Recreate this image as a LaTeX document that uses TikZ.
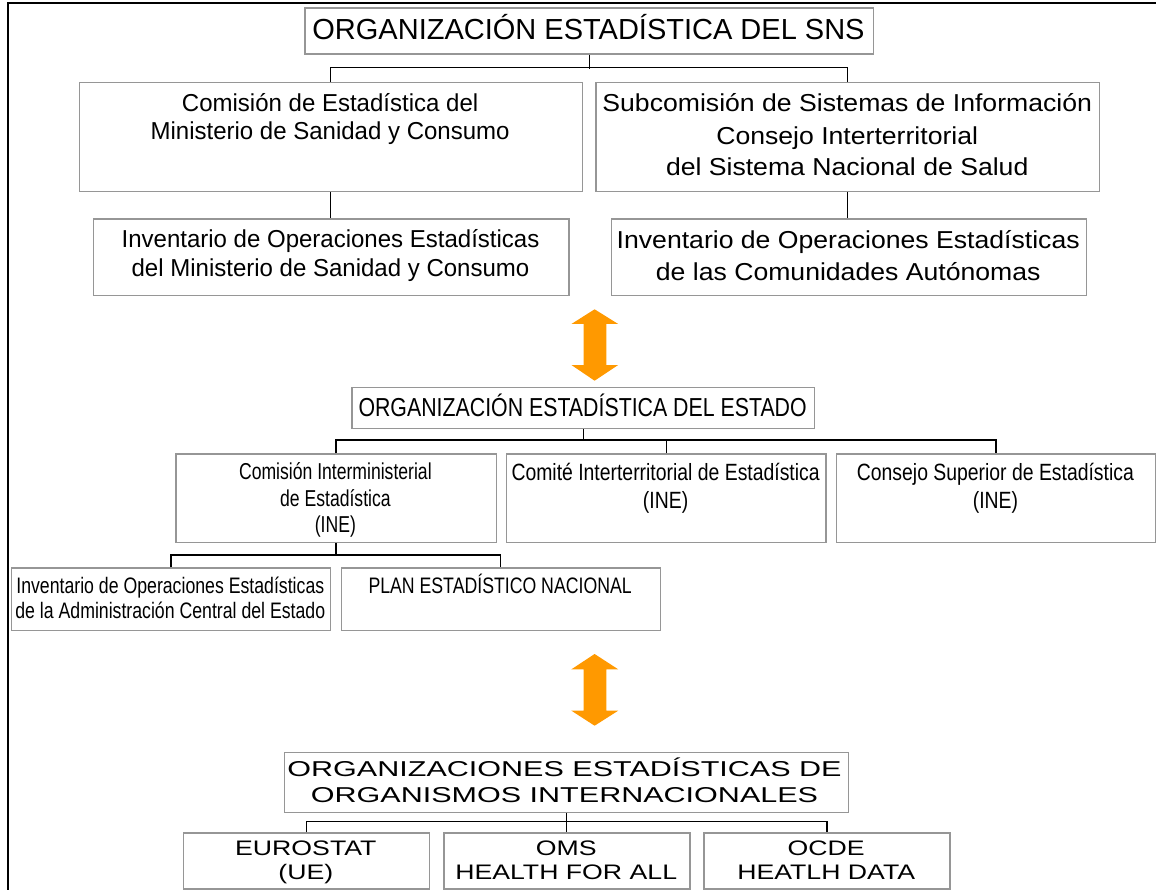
\documentclass[tikz,border=0pt]{standalone}
\usepackage{fontspec}
\setmainfont{Liberation Sans}
\newfontfamily\fntTitle[FakeStretch=1.0]{Liberation Sans}
\newfontfamily\fntLeft[FakeStretch=0.98]{Liberation Sans}
\newfontfamily\fntRight[FakeStretch=1.086]{Liberation Sans}
\newfontfamily\fntMid[FakeStretch=0.82]{Liberation Sans}
\newfontfamily\fntCie[FakeStretch=0.765]{Liberation Sans}
\newfontfamily\fntCom[FakeStretch=0.825]{Liberation Sans}
\newfontfamily\fntInv[FakeStretch=0.79]{Liberation Sans}
\newfontfamily\fntIntl[FakeStretch=1.42]{Liberation Sans}
\newfontfamily\fntOrg[FakeStretch=1.27]{Liberation Sans}
\definecolor{boxgray}{RGB}{150,150,150}
\definecolor{arroworange}{RGB}{255,153,0}
\begin{document}
\begin{tikzpicture}[x=1pt,y=-1pt,
  box/.style={draw=boxgray, line width=1.3pt, rectangle, inner sep=0pt, anchor=north west},
  conn/.style={draw=black, line width=1.3pt},
  txt/.style={anchor=base, inner sep=0pt, outer sep=0pt},
  gT/.style={font=\fntTitle\fontsize{29}{29}\selectfont},
  gL/.style={font=\fntLeft\fontsize{24.5}{24.5}\selectfont},
  gR/.style={font=\fntRight\fontsize{24.5}{24.5}\selectfont},
  gM/.style={font=\fntMid\fontsize{26}{26}\selectfont},
  gC/.style={font=\fntCie\fontsize{23}{23}\selectfont},
  gD/.style={font=\fntCom\fontsize{23.5}{23.5}\selectfont},
  gE/.style={font=\fntInv\fontsize{22.4}{22.4}\selectfont},
  gF/.style={font=\fntIntl\fontsize{21.5}{21.5}\selectfont},
  gG/.style={font=\fntOrg\fontsize{21}{21}\selectfont},
  frame/.style={draw=black, line width=2pt},
  bigarrow/.style={fill=arroworange}
]
\useasboundingbox (0,0) rectangle (1156,890);
\fill[white] (0,0) rectangle (1156,890);
% frame
\draw[frame] (7.5,891) -- (7.5,3.5) -- (1157,3.5);

% ---------- boxes ----------
\node[box, minimum width=568.6pt, minimum height=46pt] (title) at (304.2,7.3) {};
\node[box, minimum width=503.2pt, minimum height=109pt] (com) at (78.5,81.7) {};
\node[box, minimum width=503.7pt, minimum height=109pt] (sub) at (595.3,81.7) {};
\node[box, minimum width=475.7pt, minimum height=76.7pt] (invm) at (92.6,218.3) {};
\node[box, minimum width=475.1pt, minimum height=76.7pt] (invc) at (610.6,218.3) {};
\node[box, minimum width=462.6pt, minimum height=41pt] (mid) at (351.3,386.7) {};
\node[box, minimum width=320.3pt, minimum height=88.4pt] (cie) at (175.3,453.3) {};
\node[box, minimum width=319.4pt, minimum height=88.4pt] (cit) at (505.9,453.3) {};
\node[box, minimum width=318.9pt, minimum height=88.4pt] (csup) at (835.9,453.3) {};
\node[box, minimum width=319.2pt, minimum height=62.7pt] (inva) at (10.7,567.3) {};
\node[box, minimum width=319pt, minimum height=62.7pt] (plan) at (340.6,567.3) {};
\node[box, minimum width=563.7pt, minimum height=60pt] (intl) at (284,751.7) {};
\node[box, minimum width=245.7pt, minimum height=56pt] (euro) at (182.9,832.3) {};
\node[box, minimum width=246pt, minimum height=56pt] (oms) at (443.2,832.3) {};
\node[box, minimum width=245.9pt, minimum height=56pt] (ocde) at (703.3,832.3) {};

% ---------- texts ----------
\node[txt,gT] (titleA) at (588.5,39.8) {ORGANIZACIÓN ESTADÍSTICA DEL SNS};

\node[txt,gL] (comA) at (330.1,111.7) {Comisión de Estadística del};
\node[txt,gL] (comB) at (330.1,140) {Ministerio de Sanidad y Consumo};

\node[txt,gR] (subA) at (847.2,111.7) {Subcomisión de Sistemas de Información};
\node[txt,gR] (subB) at (847.2,144.5) {Consejo Interterritorial};
\node[txt,gR] (subC) at (847.2,176) {del Sistema Nacional de Salud};

\node[txt,gL] (invmA) at (330.5,248) {Inventario de Operaciones Estadísticas};
\node[txt,gL] (invmB) at (330.5,276.5) {del Ministerio de Sanidad y Consumo};

\node[txt,gR] (invcA) at (848.2,249) {Inventario de Operaciones Estadísticas};
\node[txt,gR] (invcB) at (848.2,281) {de las Comunidades Autónomas};

\node[txt,gM] (midA) at (582.6,416) {ORGANIZACIÓN ESTADÍSTICA DEL ESTADO};

\node[txt,gC] (cieA) at (335.4,479.3) {Comisión Interministerial};
\node[txt,gC] (cieB) at (335.4,506) {de Estadística};
\node[txt,gC] (cieC) at (335.4,532) {(INE)};

\node[txt,gD] (citA) at (665.6,480) {Comité Interterritorial de Estadística};
\node[txt,gD] (citB) at (665.6,508.5) {(INE)};

\node[txt,gD] (csupA) at (995.4,480) {Consejo Superior de Estadística};
\node[txt,gD] (csupB) at (995.4,508.5) {(INE)};

\node[txt,gE] (invaA) at (170.3,593.3) {Inventario de Operaciones Estadísticas};
\node[txt,gE] (invaB) at (170.3,618.3) {de la Administración Central del Estado};

\node[txt,gE] (planA) at (500.1,593.3) {PLAN ESTADÍSTICO NACIONAL};

\node[txt,gF] (intlA) at (564.5,776.7) {ORGANIZACIONES ESTADÍSTICAS DE};
\node[txt,gF] (intlB) at (564.5,802.3) {ORGANISMOS INTERNACIONALES};

\node[txt,gG] (euroA) at (305.8,855) {EUROSTAT};
\node[txt,gG] (euroB) at (305.8,879.3) {(UE)};
\node[txt,gG] (omsA) at (566.2,855) {OMS};
\node[txt,gG] (omsB) at (566.2,879.3) {HEALTH FOR ALL};
\node[txt,gG] (ocdeA) at (826.2,855) {OCDE};
\node[txt,gG] (ocdeB) at (826.2,879.3) {HEATLH DATA};

% ---------- connectors ----------
\draw[conn] (title.south) -- ++(0,14.4);
\draw[conn] (com.north) -- ++(0,-14) -| (sub.north);
\draw[conn] (com.south) -- (com.south |- invm.north);
\draw[conn] (sub.south) -- (sub.south |- invc.north);

\draw[conn] (mid.south) -- ++(0,12.3);
\draw[conn] (cie.north) -- ++(0,-13.3) -| (csup.north);
\draw[conn] (cit.north) -- ++(0,-13.3);

\draw[conn] (cie.south) -- ++(0,13.3);
\draw[conn] (inva.north) -- ++(0,-12.3) -| (plan.north);

\draw[conn] (intl.south) -- (intl.south |- oms.north);
\draw[conn] (euro.north) -- ++(0,-10.6) -| (ocde.north);

% ---------- orange double arrows ----------
\fill[bigarrow] (594.6,309.3) -- (618.2,324) -- (606.4,324) -- (606.4,365)
  -- (618.2,365) -- (594.6,380.7) -- (571.4,365) -- (583.6,365)
  -- (583.6,324) -- (571.4,324) -- cycle;
\fill[bigarrow] (594.6,654) -- (618.2,669.3) -- (606.4,669.3) -- (606.4,710.7)
  -- (618.2,710.7) -- (594.6,725.7) -- (571.4,710.7) -- (583.6,710.7)
  -- (583.6,669.3) -- (571.4,669.3) -- cycle;
\end{tikzpicture}
\end{document}
